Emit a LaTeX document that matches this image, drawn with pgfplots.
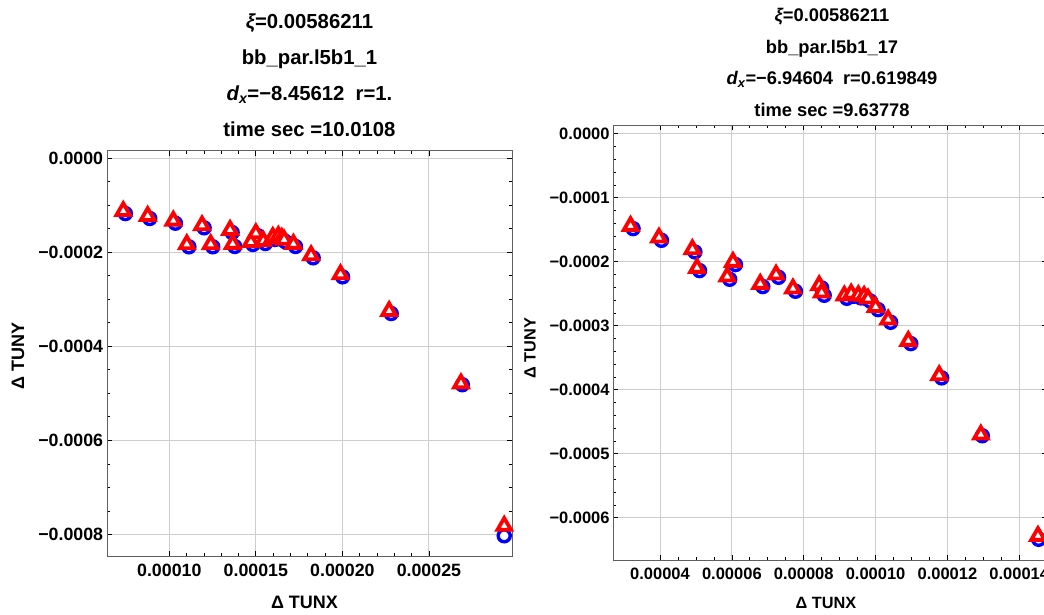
\documentclass[border=0pt]{standalone}
\usepackage{fontspec}
\setmainfont{Liberation Sans}
\usepackage{pgfplots}
\usepackage{pgfplotstable}
\pgfplotsset{compat=1.18}
\definecolor{framegray}{RGB}{95,95,95}
\definecolor{gridgray}{RGB}{205,205,205}

\pgfplotstableread{
x y
0.0000746 -0.0001176
0.0000887 -0.0001281
0.0001035 -0.0001381
0.0001113 -0.0001883
0.0001201 -0.0001479
0.0001251 -0.0001883
0.0001363 -0.0001579
0.0001378 -0.0001876
0.0001483 -0.0001834
0.0001512 -0.0001649
0.0001555 -0.0001813
0.000161 -0.0001728
0.0001642 -0.0001706
0.0001662 -0.0001749
0.0001675 -0.0001786
0.0001729 -0.0001876
0.0001831 -0.0002117
0.0002001 -0.0002522
0.0002282 -0.0003302
0.0002693 -0.0004817
0.0002935 -0.000803
}\leftcirc

\pgfplotstableread{
x y
0.0000734 -0.0001123
0.0000875 -0.0001228
0.0001023 -0.0001328
0.0001101 -0.000183
0.0001189 -0.0001426
0.0001239 -0.000183
0.0001351 -0.0001526
0.0001366 -0.0001823
0.0001471 -0.0001781
0.00015 -0.0001596
0.0001543 -0.000176
0.0001598 -0.0001675
0.000163 -0.0001653
0.000165 -0.0001696
0.0001663 -0.0001733
0.0001717 -0.0001823
0.0001819 -0.0002064
0.0001989 -0.0002469
0.000227 -0.0003249
0.0002685 -0.000479
0.0002935 -0.000782
}\lefttri

\pgfplotstableread{
x y
0.0000325 -0.0001483
0.0000404 -0.0001666
0.0000497 -0.0001847
0.000051 -0.0002139
0.0000594 -0.0002275
0.000061 -0.0002045
0.0000686 -0.0002389
0.000073 -0.0002244
0.0000777 -0.0002462
0.000085 -0.000241
0.0000857 -0.0002525
0.000092 -0.0002572
0.0000939 -0.0002541
0.0000959 -0.0002566
0.0000975 -0.0002577
0.0000986 -0.0002619
0.0001007 -0.0002749
0.0001042 -0.0002947
0.0001098 -0.000328
0.0001184 -0.0003816
0.0001297 -0.000472
0.0001454 -0.0006338
}\rightcirc

\pgfplotstableread{
x y
0.0000318 -0.0001442
0.0000397 -0.0001625
0.000049 -0.0001806
0.0000503 -0.0002098
0.0000587 -0.0002234
0.0000603 -0.0002004
0.0000679 -0.0002348
0.0000723 -0.0002203
0.000077 -0.0002421
0.0000843 -0.0002369
0.000085 -0.0002484
0.0000913 -0.0002531
0.0000932 -0.00025
0.0000952 -0.0002525
0.0000968 -0.0002536
0.0000979 -0.0002578
0.0001 -0.0002708
0.0001035 -0.0002906
0.0001091 -0.0003239
0.0001177 -0.0003775
0.0001293 -0.0004703
0.0001452 -0.0006286
}\righttri

\pgfplotsset{
  mmastyle/.style={
    scale only axis,
    anchor=south west,
    clip=false,
    scaled x ticks=false, scaled y ticks=false,
    axis line style={framegray, line width=1pt},
    tick style={black, line width=0.7pt},
    major tick length=5pt, minor tick length=3pt,
    tick align=inside,
    xtick pos=both, ytick pos=both,
    grid=major,
    major grid style={gridgray, line width=0.9pt},
    yticklabel style={inner sep=0pt, anchor=east},
    xticklabel style={inner sep=0pt, anchor=north},
  },
  circs/.style={only marks, mark=*, mark size=6pt,
    mark options={draw=blue, fill=white, line width=3.4pt}},
  tris/.style={only marks, mark=triangle*, mark size=7.8pt,
    mark options={draw=red, fill=white, line width=3.8pt}},
}

\begin{document}
\begin{tikzpicture}
\useasboundingbox (0,0) rectangle (1044pt,614pt);

% ---------- left panel ----------
\begin{axis}[mmastyle,
  at={(107pt,58pt)}, width=405pt, height=405pt,
  xmin=0.000064, xmax=0.000298,
  ymin=-0.000846, ymax=0.0000155,
  xtick={0.0001,0.00015,0.0002,0.00025},
  xticklabels={0.00010,0.00015,0.00020,0.00025},
  ytick={-0.0008,-0.0006,-0.0004,-0.0002,0},
  yticklabels={−0.0008,−0.0006,−0.0004,−0.0002,0.0000},
  minor x tick num=4, minor y tick num=3,
  ticklabel style={font=\fontsize{17.8}{20}\selectfont\bfseries},
  yticklabel style={xshift=-3.7pt},
  xticklabel style={yshift=-8pt},
]
\addplot[circs] table[x=x,y=y] {\leftcirc};
\addplot[tris] table[x=x,y=y] {\lefttri};
\end{axis}

% ---------- right panel ----------
\begin{axis}[mmastyle,
  at={(613.3pt,53.7pt)}, width=434pt, height=435.3pt,
  xmin=0.000027, xmax=0.0001478,
  ymin=-0.0006666, ymax=0.0000136,
  xtick={0.00004,0.00006,0.00008,0.0001,0.00012,0.00014},
  xticklabels={0.00004,0.00006,0.00008,0.00010,0.00012,0.00014},
  ytick={-0.0006,-0.0005,-0.0004,-0.0003,-0.0002,-0.0001,0},
  yticklabels={−0.0006,−0.0005,−0.0004,−0.0003,−0.0002,−0.0001,0.0000},
  minor x tick num=3, minor y tick num=4,
  ticklabel style={font=\fontsize{16.5}{19}\selectfont\bfseries},
  yticklabel style={xshift=-3.5pt},
  xticklabel style={yshift=-7.8pt},
]
\addplot[circs] table[x=x,y=y] {\rightcirc};
\addplot[tris] table[x=x,y=y] {\righttri};
\end{axis}

% ---------- titles and axis labels ----------
\begin{scope}[every node/.style={inner sep=0pt, font=\fontsize{20.3}{24}\selectfont\bfseries}]
\node[anchor=base] at (309.5pt,{614pt-28.3pt}) {{\itshape ξ}=0.00586211};
\node[anchor=base] at (309.5pt,{614pt-64.3pt}) {bb\_par.l5b1\_1};
\node[anchor=base] at (309.5pt,{614pt-100.3pt}) {{\itshape d\textsubscript{x}}=−8.45612\hspace{0.55em}r=1.};
\node[anchor=base] at (309.5pt,{614pt-136.5pt}) {time sec =10.0108};
\end{scope}
\begin{scope}[every node/.style={inner sep=0pt, font=\fontsize{18.3}{22}\selectfont\bfseries}]
\node[anchor=base] at (832pt,{614pt-21.7pt}) {{\itshape ξ}=0.00586211};
\node[anchor=base] at (832pt,{614pt-53.4pt}) {bb\_par.l5b1\_17};
\node[anchor=base] at (832pt,{614pt-85pt}) {{\itshape d\textsubscript{x}}=−6.94604\hspace{0.55em}r=0.619849};
\node[anchor=base] at (832pt,{614pt-116.7pt}) {time sec =9.63778};
\end{scope}
\node[inner sep=0pt, font=\fontsize{18}{21}\selectfont\bfseries] at (304.5pt,{614pt-602.7pt}) {Δ TUNX};
\node[inner sep=0pt, font=\fontsize{18}{21}\selectfont\bfseries, rotate=90] at (18pt,{614pt-356pt}) {Δ TUNY};
\node[inner sep=0pt, font=\fontsize{16.3}{19}\selectfont\bfseries] at (826pt,{614pt-603pt}) {Δ TUNX};
\node[inner sep=0pt, font=\fontsize{16.3}{19}\selectfont\bfseries, rotate=90] at (530pt,{614pt-348pt}) {Δ TUNY};
\end{tikzpicture}
\end{document}
